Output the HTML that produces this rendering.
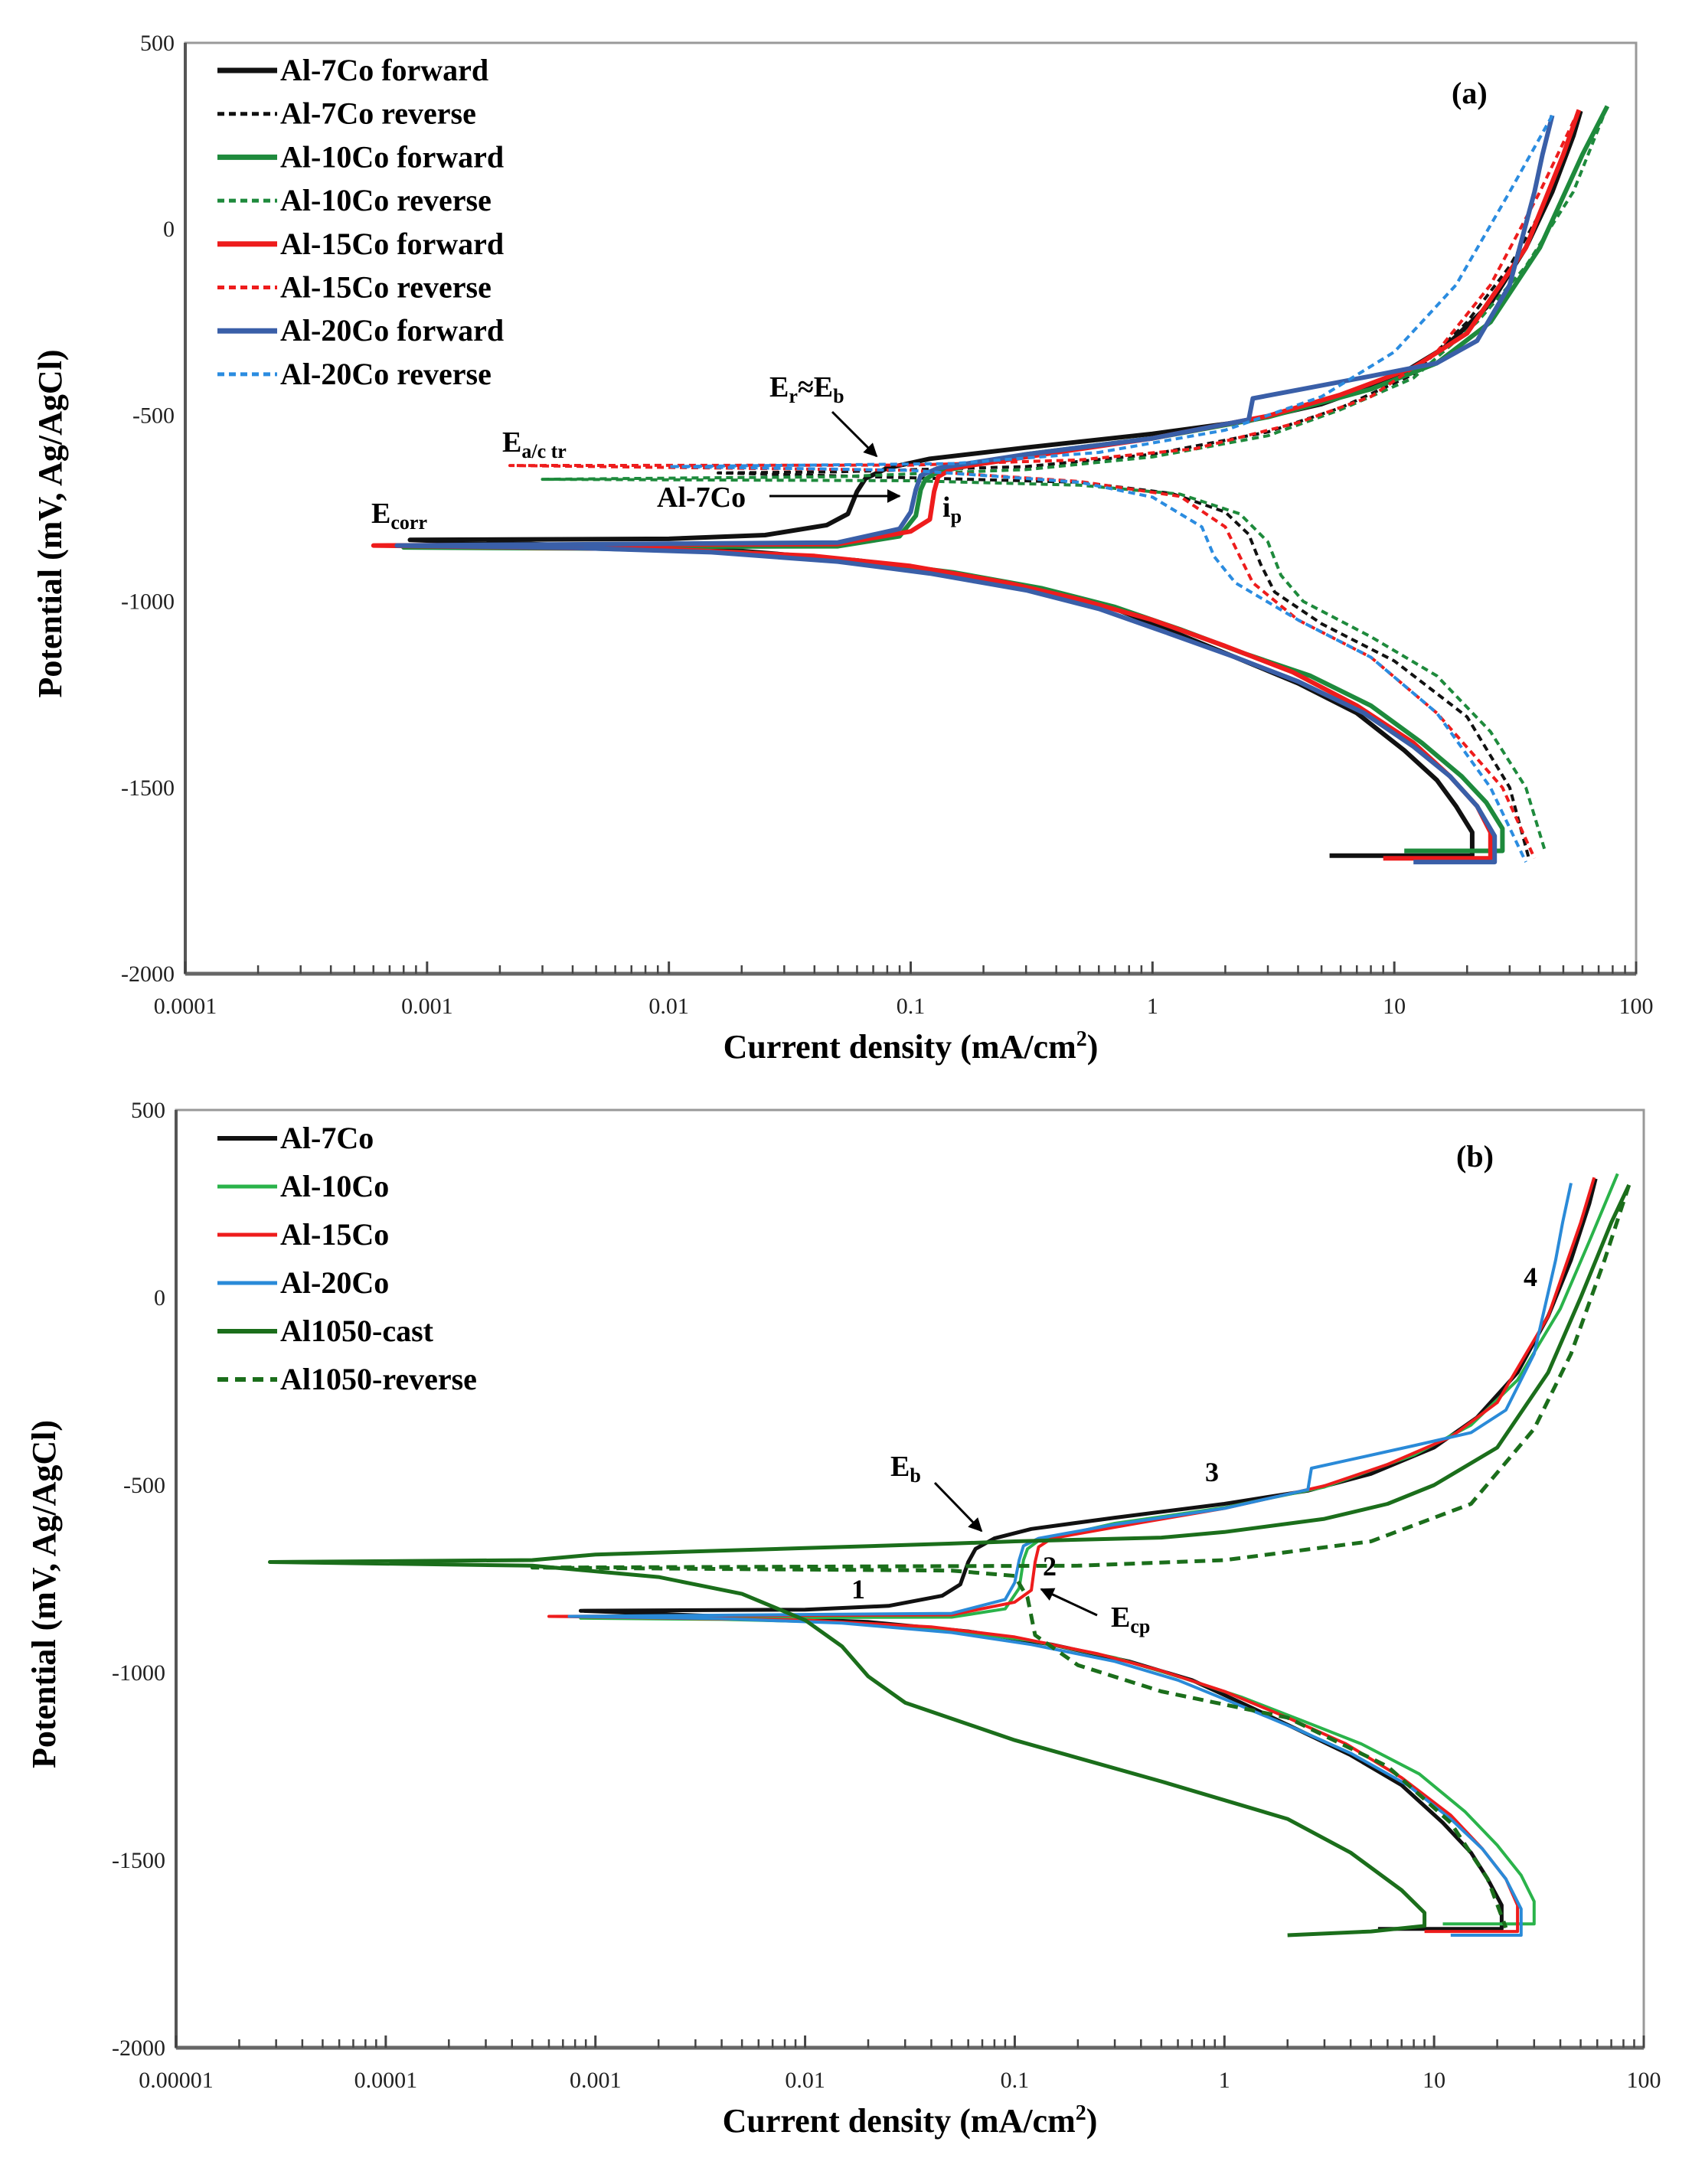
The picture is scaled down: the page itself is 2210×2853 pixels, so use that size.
<!DOCTYPE html>
<html><head><meta charset="utf-8">
<style>
html,body{margin:0;padding:0;background:#fff;}
svg{display:block;font-family:"Liberation Serif",serif;}
</style></head>
<body>
<svg id="chart" width="2210" height="2853" viewBox="0 0 2210 2853" xmlns="http://www.w3.org/2000/svg">
<defs>
<marker id="arr" viewBox="0 0 10 10" refX="9" refY="5" markerWidth="6" markerHeight="6" orient="auto"><path d="M0,0 L10,5 L0,10 z" fill="#000"/></marker>
</defs>
<g id="pa"></g>
<g id="pb"></g>
<!-- panel a annotations -->
<text x="1896" y="135" font-size="40" font-weight="bold">(a)</text>
<text x="1005" y="518" font-size="38" font-weight="bold">E<tspan font-size="26" dy="8">r</tspan><tspan dy="-8">≈E</tspan><tspan font-size="26" dy="8">b</tspan></text>
<line x1="1087" y1="538" x2="1145" y2="596" stroke="#000" stroke-width="3" marker-end="url(#arr)"/>
<text x="656" y="590" font-size="38" font-weight="bold">E<tspan font-size="26" dy="8">a/c tr</tspan></text>
<text x="485" y="683" font-size="38" font-weight="bold">E<tspan font-size="26" dy="8">corr</tspan></text>
<text x="858" y="662" font-size="38" font-weight="bold">Al-7Co</text>
<line x1="1005" y1="648" x2="1175" y2="648" stroke="#000" stroke-width="3" marker-end="url(#arr)"/>
<text x="1231" y="675" font-size="38" font-weight="bold">i<tspan font-size="26" dy="8">p</tspan></text>
<!-- panel b annotations -->
<text x="1902" y="1524" font-size="40" font-weight="bold">(b)</text>
<text x="1163" y="1928" font-size="38" font-weight="bold">E<tspan font-size="26" dy="8">b</tspan></text>
<line x1="1221" y1="1937" x2="1282" y2="2000" stroke="#000" stroke-width="3" marker-end="url(#arr)"/>
<text x="1574" y="1935" font-size="36" font-weight="bold">3</text>
<text x="1990" y="1680" font-size="36" font-weight="bold">4</text>
<text x="1112" y="2088" font-size="36" font-weight="bold">1</text>
<text x="1362" y="2058" font-size="36" font-weight="bold">2</text>
<text x="1451" y="2125" font-size="38" font-weight="bold">E<tspan font-size="26" dy="8">cp</tspan></text>
<line x1="1433" y1="2110" x2="1360" y2="2076" stroke="#000" stroke-width="3" marker-end="url(#arr)"/>
</svg>
<script>
// ---------- data (current density mA/cm2, potential mV) ----------
const aBlackFwd = [[5.4,-1683],[21,-1683],[21,-1620],[18,-1550],[15,-1480],[11,-1400],[7,-1300],[4,-1220],[2.2,-1150],[1.2,-1080],[0.7,-1020],[0.35,-970],[0.15,-925],[0.06,-890],[0.02,-865],[0.005,-852],[0.00085,-835],[0.01,-832],[0.025,-822],[0.045,-795],[0.055,-765],[0.06,-705],[0.065,-670],[0.08,-642],[0.12,-617],[0.3,-587],[1,-550],[2.5,-515],[5,-470],[10,-400],[16,-320],[25,-200],[35,-50],[45,100],[55,250],[59,317]];
const aBlackRev = [[59,317],[45,100],[30,-100],[20,-250],[12,-390],[6,-480],[3,-545],[1,-605],[0.3,-638],[0.05,-652],[0.016,-655],[0.1,-668],[0.5,-680],[1.2,-710],[2,-760],[2.5,-820],[2.8,-900],[3.2,-975],[5,-1060],[10,-1160],[20,-1310],[30,-1500],[36,-1690]];
const aGreenFwd = [[11,-1670],[28,-1670],[28,-1610],[24,-1540],[19,-1470],[13,-1380],[8,-1280],[4.5,-1200],[2.4,-1140],[1.3,-1075],[0.7,-1015],[0.35,-965],[0.15,-922],[0.06,-890],[0.02,-868],[0.005,-858],[0.0008,-855],[0.05,-852],[0.09,-825],[0.105,-770],[0.11,-700],[0.115,-672],[0.13,-652],[0.3,-605],[1,-562],[3,-505],[8,-430],[15,-360],[25,-250],[40,-50],[60,200],[76,330]];
const aGreenRev = [[76,330],[55,100],[35,-100],[22,-250],[12,-400],[6,-485],[3,-555],[1,-612],[0.3,-646],[0.05,-665],[0.003,-672],[0.1,-676],[0.5,-688],[1.3,-712],[2.3,-765],[3,-840],[3.4,-930],[4.2,-1000],[8,-1095],[15,-1200],[25,-1350],[35,-1500],[42,-1670]];
const aRedFwd = [[9,-1690],[25,-1690],[25,-1620],[22,-1550],[17,-1470],[12,-1380],[7,-1280],[3.8,-1190],[2,-1120],[1,-1050],[0.5,-995],[0.25,-950],[0.1,-905],[0.04,-878],[0.01,-860],[0.0006,-850],[0.05,-846],[0.1,-812],[0.12,-780],[0.125,-705],[0.13,-665],[0.15,-642],[0.4,-600],[1,-562],[3,-502],[6,-445],[12,-372],[20,-280],[35,-50],[50,200],[58,320]];
const aRedRev = [[58,320],[40,100],[25,-150],[15,-330],[8,-450],[4,-520],[1.5,-590],[0.5,-620],[0.1,-634],[0.0022,-635],[0.1,-648],[0.5,-678],[1.3,-718],[2,-800],[2.3,-880],[2.6,-950],[4,-1050],[8,-1150],[15,-1300],[28,-1500],[38,-1690]];
const aBlueFwd = [[12,-1700],[26,-1700],[26,-1630],[22,-1550],[17,-1470],[12,-1390],[7.5,-1300],[4,-1215],[2.2,-1150],[1.1,-1080],[0.6,-1020],[0.3,-970],[0.12,-925],[0.05,-893],[0.015,-868],[0.004,-856],[0.00075,-850],[0.05,-842],[0.09,-805],[0.1,-760],[0.105,-700],[0.11,-662],[0.13,-642],[0.3,-605],[1,-562],[2.5,-512],[2.6,-455],[4,-432],[8,-395],[15,-360],[22,-300],[30,-150],[38,100],[41,200],[45,305]];
const aBlueRev = [[45,305],[30,100],[18,-150],[10,-330],[5,-450],[2,-540],[0.6,-600],[0.15,-630],[0.01,-638],[0.1,-648],[0.5,-680],[1,-720],[1.6,-800],[1.8,-880],[2.2,-950],[4,-1050],[8,-1150],[15,-1300],[25,-1500],[35,-1700]];

const bBlack = aBlackFwd;
const bGreen = [[11,-1670],[30,-1670],[30,-1610],[26,-1540],[20,-1460],[14,-1370],[8.5,-1270],[4.5,-1190],[2.4,-1130],[1.2,-1065],[0.6,-1010],[0.3,-960],[0.12,-915],[0.05,-888],[0.015,-866],[0.004,-858],[0.00085,-855],[0.05,-852],[0.09,-830],[0.105,-775],[0.11,-700],[0.115,-670],[0.13,-648],[0.3,-602],[1,-560],[3,-505],[8,-420],[15,-340],[25,-220],[40,-30],[55,150],[75,330]];
const bRed = aRedFwd;
const bBlue = aBlueFwd;
const bCast = [[2,-1700],[5,-1690],[9,-1675],[9,-1640],[7,-1580],[4,-1480],[2,-1390],[0.5,-1290],[0.1,-1180],[0.03,-1080],[0.02,-1010],[0.015,-930],[0.01,-860],[0.005,-790],[0.002,-745],[0.0005,-715],[0.000028,-705],[0.0005,-700],[0.001,-685],[0.01,-668],[0.05,-656],[0.1,-650],[0.5,-640],[1,-625],[3,-590],[6,-550],[10,-500],[20,-400],[35,-200],[50,0],[70,200],[85,300]];
const bRev = [[85,300],[65,100],[45,-150],[30,-350],[15,-550],[5,-650],[1,-700],[0.2,-715],[0.0005,-720],[0.05,-728],[0.1,-742],[0.115,-800],[0.125,-900],[0.2,-980],[0.5,-1050],[2,-1120],[6,-1250],[12,-1400],[18,-1550],[22,-1680]];

const aXTicks = ["0.0001","0.001","0.01","0.1","1","10","100"];
const bXTicks = ["0.00001","0.0001","0.001","0.01","0.1","1","10","100"];
const yTicks = [500,0,-500,-1000,-1500,-2000];

const aLegend = ["Al-7Co forward","Al-7Co reverse","Al-10Co forward","Al-10Co reverse","Al-15Co forward","Al-15Co reverse","Al-20Co forward","Al-20Co reverse"];
const bLegend = ["Al-7Co","Al-10Co","Al-15Co","Al-20Co","Al1050-cast","Al1050-reverse"];

// ---------- drawing ----------
const NS = "http://www.w3.org/2000/svg";
function mk(tag, parent, attrs){ const e=document.createElementNS(NS,tag); for(const k in attrs) e.setAttribute(k,attrs[k]); parent.appendChild(e); return e; }

function drawPanel(g, P, xt, legend, series){
  const xs = i => P.L + (Math.log10(i) - P.d0) * (P.R - P.L) / (P.d1 - P.d0);
  const ys = E => P.T + (500 - E) * (P.B - P.T) / 2500;
  const ax = mk('path', g, {d:`M${P.L},${P.T} L${P.R},${P.T} L${P.R},${P.B} L${P.L},${P.B} Z`, fill:'none', stroke:'#999', 'stroke-width':3});
  
  
  const la = mk('line', g, {x1:P.L,y1:P.T,x2:P.L,y2:P.B,stroke:'#555','stroke-width':4});
  
  
  const lb = mk('line', g, {x1:P.L,y1:P.B,x2:P.R,y2:P.B,stroke:'#666','stroke-width':5});
  
  
  yTicks.forEach(v=>{
    const t = mk('text', g, {x:P.L-14, y:ys(v)+10, 'font-size':30, 'text-anchor':'end', fill:'#222'});
    t.textContent = v;
    
    
  });
  xt.forEach((lab,k)=>{
    const d = P.d0 + k;
    const x = xs(Math.pow(10,d));
    const t = mk('text', g, {x:x, y:P.B+52, 'font-size':30, 'text-anchor':'middle', fill:'#222'});
    t.textContent = lab;
    
    
    const tk = mk('line', g, {x1:x,y1:P.B,x2:x,y2:P.B-16,stroke:'#444','stroke-width':3});
    
    
    if(k < xt.length-1){
      for(let m=2;m<10;m++){
        const xm = xs(m*Math.pow(10,d));
        const mt = mk('line', g, {x1:xm,y1:P.B,x2:xm,y2:P.B-11,stroke:'#444','stroke-width':2.5});
        
        
      }
    }
  });
  const xtl = mk('text', g, {x:(P.L+P.R)/2, y:P.B+110, 'font-size':44, 'font-weight':'bold', 'text-anchor':'middle'});
  xtl.innerHTML = 'Current density (mA/cm<tspan font-size="28" dy="-16">2</tspan><tspan dy="16">)</tspan>';
  
  
  const cy = (P.T+P.B)/2 + 20;
  const ytl = mk('text', g, {x:P.yx, y:cy, 'font-size':44, 'font-weight':'bold', 'text-anchor':'middle', transform:`rotate(-90 ${P.yx} ${cy})`});
  ytl.textContent = P.ytitle;
  
  
  series.forEach((s,k)=>{
    const d = s.data.map((p,j)=>(j?'L':'M')+xs(p[0]).toFixed(1)+','+ys(p[1]).toFixed(1)).join(' ');
    const attrs = {d:d, fill:'none', stroke:s.c, 'stroke-width':s.w, 'stroke-linejoin':'round'};
    if(s.dash) attrs['stroke-dasharray'] = s.dash;
    const pth = mk('path', g, attrs);
    
    
    const ly = P.legY + k*P.legDy;
    const lattrs = {x1:P.legX, y1:ly, x2:P.legX+78, y2:ly, stroke:s.c, 'stroke-width':s.w+1};
    if(s.dash) lattrs['stroke-dasharray'] = s.dash;
    const ll = mk('line', g, lattrs);
    
    
    const lt = mk('text', g, {x:P.legX+82, y:ly+13, 'font-size':40, 'font-weight':'bold'});
    lt.textContent = legend[k];
    
    
  });
}

drawPanel(document.getElementById('pa'),
  {L:242,R:2137,T:56,B:1272,d0:-4,d1:2,yx:80,ytitle:'Potential (mV,  Ag/AgCl)',legX:284,legY:92,legDy:56.7},
  aXTicks, aLegend,
  [{data:aBlackFwd,c:'#111',w:6},{data:aBlackRev,c:'#111',w:4,dash:'9,6'},
   {data:aGreenFwd,c:'#1e8a3c',w:6},{data:aGreenRev,c:'#1e8a3c',w:4,dash:'9,6'},
   {data:aRedFwd,c:'#ee1c1c',w:6},{data:aRedRev,c:'#ee1c1c',w:4,dash:'9,6'},
   {data:aBlueFwd,c:'#3a5fa8',w:6},{data:aBlueRev,c:'#2b8ce0',w:4,dash:'9,6'}]);

drawPanel(document.getElementById('pb'),
  {L:230,R:2147,T:1450,B:2675,d0:-5,d1:2,yx:72,ytitle:'Potential (mV, Ag/AgCl)',legX:284,legY:1487,legDy:63},
  bXTicks, bLegend,
  [{data:bBlack,c:'#111',w:5},{data:bGreen,c:'#2ab34a',w:4},{data:bRed,c:'#ee1c1c',w:4},
   {data:bBlue,c:'#2a8ad8',w:4},{data:bCast,c:'#1b6e1b',w:5},{data:bRev,c:'#1b6e1b',w:5,dash:'14,9'}]);
</script>
</body></html>
